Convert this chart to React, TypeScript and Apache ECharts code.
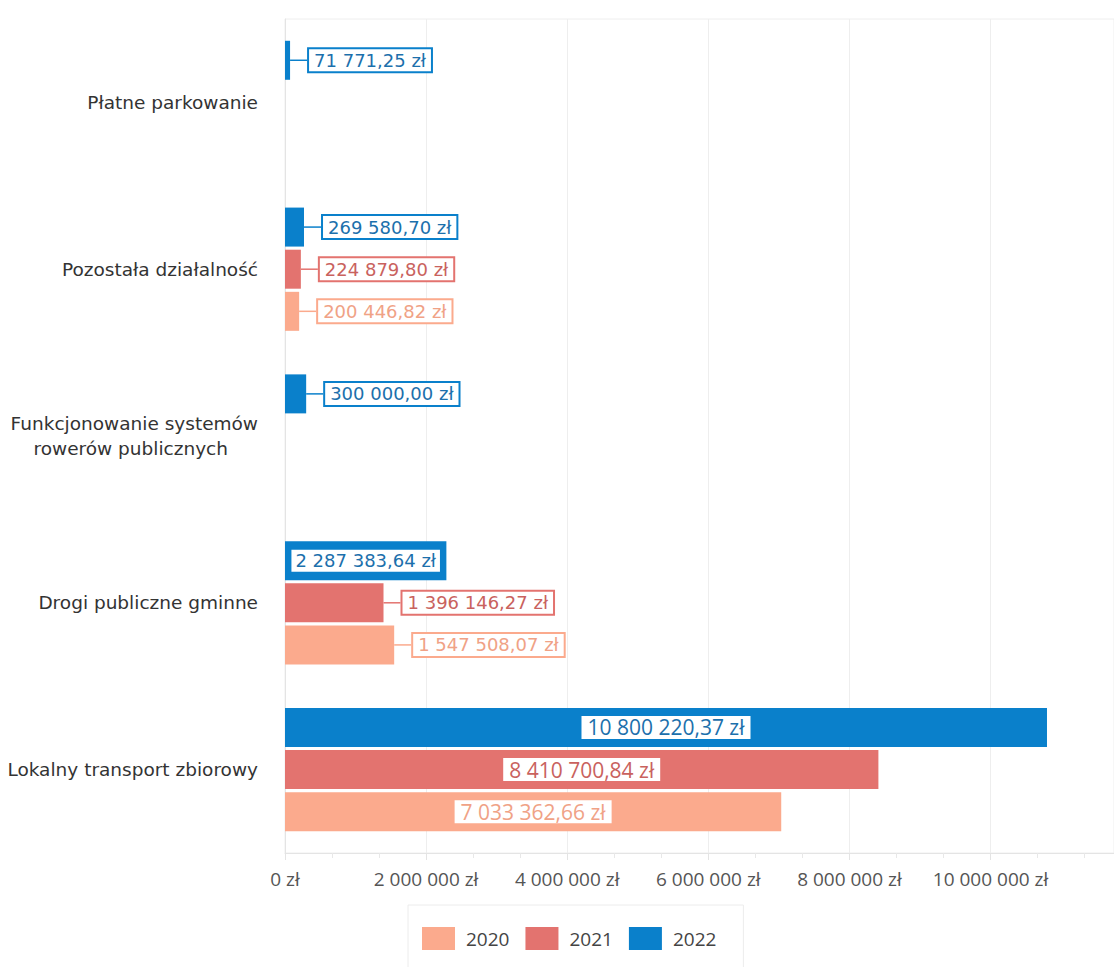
import React, { useEffect, useRef } from "react";
import * as echarts from "echarts";

const categories = [
  "Płatne parkowanie",
  "Pozostała działalność",
  "Funkcjonowanie systemów rowerów publicznych",
  "Drogi publiczne gminne",
  "Lokalny transport zbiorowy",
];
const years = ["2020", "2021", "2022"];
const values2020: (number | null)[] = [null, 200446.82, null, 1547508.07, 7033362.66];
const values2021: (number | null)[] = [null, 224879.8, null, 1396146.27, 8410700.84];
const values2022: (number | null)[] = [71771.25, 269580.7, 300000.0, 2287383.64, 10800220.37];
const xTicks = [0, 2000000, 4000000, 6000000, 8000000, 10000000];

const barColors = ["#FBAA8D", "#E3736F", "#0A80CB"];
const textColors = ["#F0A286", "#C9625E", "#1C70AC"];

function groupThousands(s: string) {
  return s.replace(/\B(?=(\d{3})+(?!\d))/g, " ");
}
function fmtMoney(v: number) {
  const [i, d] = v.toFixed(2).split(".");
  return groupThousands(i) + "," + d + " zł";
}
function fmtAxis(v: number) {
  return groupThousands(String(Math.round(v))) + " zł";
}

export default function App() {
  const ref = useRef<HTMLDivElement>(null);
  useEffect(() => {
    if (!ref.current) return;
    const chart = echarts.init(ref.current, undefined, { renderer: "svg" });
    const allValues = [values2020, values2021, values2022];

    const makeData = (vals: (number | null)[], si: number) =>
      vals.map((v) => {
        if (v == null) return { value: null };
        if (v < 2000000) {
          return {
            value: v,
            label: {
              show: true,
              position: "right",
              distance: 0,
              formatter: () => fmtMoney(v),
              fontFamily: "DejaVu Sans",
              fontSize: 18,
              color: textColors[si],
              backgroundColor: "#fff",
              borderColor: barColors[si],
              borderWidth: 2,
              padding: [3, 5, 1, 5],
            },
            labelLine: { show: true, lineStyle: { color: barColors[si], width: 1.5 } },
          };
        }
        if (v < 5000000) {
          return {
            value: v,
            label: {
              show: true,
              position: "inside",
              formatter: () => fmtMoney(v),
              fontFamily: "DejaVu Sans",
              fontSize: 18,
              color: textColors[si],
              backgroundColor: "#fff",
              padding: [3, 4, 1, 4],
            },
          };
        }
        return {
          value: v,
          label: {
            show: true,
            position: "inside",
            formatter: () => fmtMoney(v),
            fontFamily: "Open Sans",
            fontSize: 21,
            color: textColors[si],
            backgroundColor: "#fff",
            padding: [2, 6, 0, 6],
          },
        };
      });

    // drawn top-to-bottom within each category: 2022, 2021, 2020
    const order = [2, 1, 0];
    const series = order.map((si) => ({
      name: years[si],
      type: "bar",
      data: makeData(allValues[si], si),
      barWidth: 39,
      barGap: "8%",
      itemStyle: { color: barColors[si] },
      labelLayout: (p: any) => {
        const v = allValues[si][p.dataIndex];
        if (v != null && v < 2000000) return { dx: 19 };
        return {};
      },
    }));

    chart.setOption({
      animation: false,
      backgroundColor: "#fff",
      grid: {
        left: 285,
        right: 0,
        top: 19,
        bottom: 114,
        show: true,
        borderColor: "#eeeeee",
        borderWidth: 1,
      },
      legend: {
        data: years,
        top: 905,
        left: 408,
        itemWidth: 33,
        itemHeight: 23,
        itemGap: 16,
        padding: [22, 27, 22, 14],
        borderColor: "#ececec",
        borderWidth: 1,
        icon: "rect",
        textStyle: {
          fontFamily: "Open Sans",
          fontSize: 19,
          color: "#444",
          padding: [0, 0, 0, 6],
        },
      },
      xAxis: {
        type: "value",
        min: 0,
        max: 11750000,
        interval: 2000000,
        axisLine: { show: true, lineStyle: { color: "#e4e4e4" } },
        axisTick: { show: true, length: 7, lineStyle: { color: "#e4e4e4" } },
        minorTick: { show: true, splitNumber: 3, length: 5, lineStyle: { color: "#e8e8e8" } },
        splitLine: { show: true, lineStyle: { color: "#eeeeee" } },
        axisLabel: {
          showMaxLabel: false,
          margin: 16,
          fontFamily: "Open Sans",
          fontSize: 19,
          color: "#555",
          formatter: (v: number) => (xTicks.includes(v) ? fmtAxis(v) : ""),
        },
      },
      yAxis: {
        type: "category",
        data: categories,
        inverse: true,
        axisLine: { show: true, lineStyle: { color: "#e4e4e4" } },
        axisTick: { show: false },
        axisLabel: {
          margin: 27,
          fontFamily: "DejaVu Sans",
          fontSize: 18.5,
          color: "#333",
          lineHeight: 25,
          formatter: (v: string) =>
            v === "Funkcjonowanie systemów rowerów publicznych"
              ? "Funkcjonowanie systemów\n{b|rowerów publicznych}"
              : v,
          rich: {
            b: {
              fontFamily: "DejaVu Sans",
              fontSize: 18.5,
              color: "#333",
              lineHeight: 25,
              padding: [0, 30, 0, 0],
            },
          },
        },
      },
      series,
    });
    return () => chart.dispose();
  }, []);
  return (
    <div
      ref={ref}
      style={{ position: "fixed", left: 0, top: 0, width: 1114, height: 967, background: "#fff" }}
    />
  );
}
